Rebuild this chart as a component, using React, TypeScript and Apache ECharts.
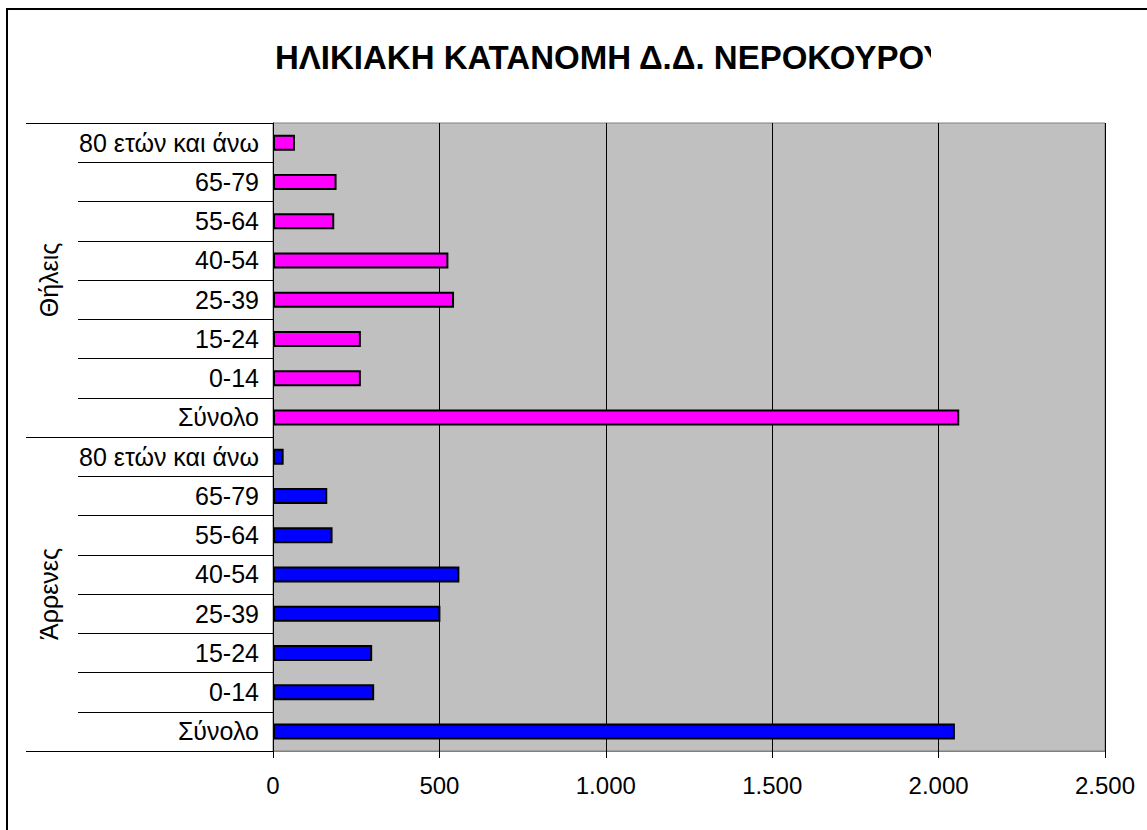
import React, { useEffect, useRef } from "react";
import * as echarts from "echarts";

const ageGroups = ["Σύνολο", "0-14", "15-24", "25-39", "40-54", "55-64", "65-79", "80 ετών και άνω"];
const groups = ["Άρρενες", "Θήλεις"];
const males = [2049, 304, 298, 503, 560, 179, 163, 32];
const females = [2062, 264, 264, 544, 527, 184, 191, 66];
const xTicks = { min: 0, max: 2500, interval: 500 };
const titleText = "ΗΛΙΚΙΑΚΗ ΚΑΤΑΝΟΜΗ Δ.Δ. ΝΕΡΟΚΟΥΡΟΥ";

const FONT = '"Liberation Sans", Arial, sans-serif';

export default function App() {
  const ref = useRef<HTMLDivElement>(null);
  useEffect(() => {
    document.body.style.margin = "0";
    if (!ref.current) return;
    const chart = echarts.init(ref.current, null, { renderer: "svg" });
    const cats = [...ageGroups, ...ageGroups];
    const empty = ageGroups.map(() => "-");
    const fmt = (v: number) => String(v).replace(/\B(?=(\d{3})+(?!\d))/g, ".");
    chart.setOption({
      animation: false,
      backgroundColor: "#ffffff",
      textStyle: { fontFamily: FONT, color: "#000" },
      title: {
        text: titleText,
        left: 270,
        top: 36,
        textStyle: { fontFamily: FONT, fontSize: 33, fontWeight: "bold", color: "#000" },
      },
      graphic: [
        { type: "rect", z: 100, shape: { x: 931, y: 28, width: 200, height: 64 }, style: { fill: "#fff" } },
        { type: "rect", z: 101, shape: { x: 7, y: 9, width: 1300, height: 1000 }, style: { fill: "none", stroke: "#000", lineWidth: 2 } },
      ],
      grid: {
        left: 273,
        right: 42,
        top: 123,
        bottom: 79,
        show: true,
        backgroundColor: "#C0C0C0",
        borderColor: "#808080",
        borderWidth: 1,
      },
      xAxis: {
        type: "value",
        min: xTicks.min,
        max: xTicks.max,
        interval: xTicks.interval,
        axisLine: { show: true, lineStyle: { color: "#808080", width: 1 } },
        axisTick: { show: true, length: 7, lineStyle: { color: "#000" } },
        splitLine: { show: true, lineStyle: { color: "#000", width: 1 } },
        axisLabel: { fontSize: 24, color: "#000", fontFamily: FONT, margin: 22, formatter: fmt },
      },
      yAxis: [
        {
          type: "category",
          data: cats,
          position: "left",
          axisLine: { show: true, lineStyle: { color: "#000", width: 1 } },
          axisTick: { show: true, length: 195, interval: 0, lineStyle: { color: "#000" } },
          axisLabel: { fontSize: 25, color: "#000", fontFamily: FONT, margin: 14, interval: 0 },
        },
        {
          type: "category",
          data: groups,
          position: "left",
          axisLine: { show: false },
          axisTick: { show: true, length: 247, interval: 0, lineStyle: { color: "#000" } },
          axisLabel: { fontSize: 25, color: "#000", fontFamily: FONT, rotate: 90, margin: 212, interval: 0 },
        },
      ],
      series: [
        {
          name: groups[0],
          type: "bar",
          stack: "total",
          yAxisIndex: 0,
          barWidth: 16,
          data: [...males, ...empty],
          itemStyle: { color: "#0000FF", borderColor: "#000", borderWidth: 2 },
        },
        {
          name: groups[1],
          type: "bar",
          stack: "total",
          yAxisIndex: 0,
          barWidth: 16,
          data: [...empty, ...females],
          itemStyle: { color: "#FF00FF", borderColor: "#000", borderWidth: 2 },
        },
      ],
    });
    return () => chart.dispose();
  }, []);
  return <div ref={ref} style={{ width: 1147, height: 830 }} />;
}
